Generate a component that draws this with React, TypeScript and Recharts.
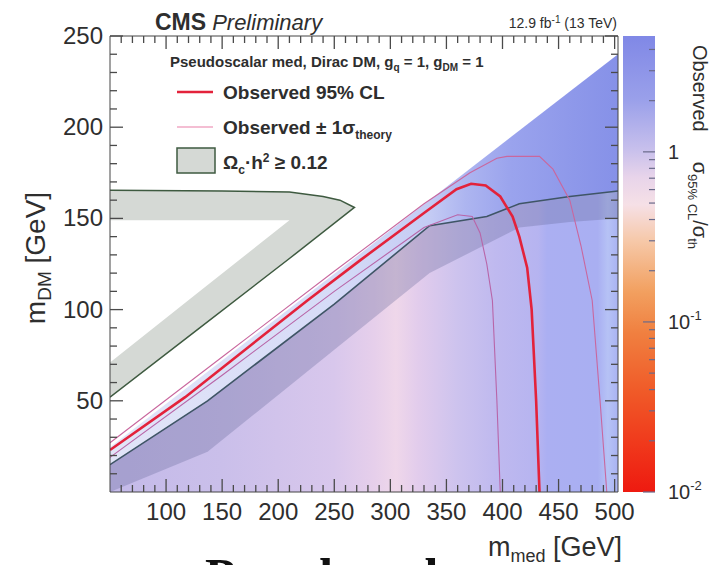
import { Area, ComposedChart, Line, ReferenceArea, XAxis, YAxis } from "recharts";

const SANS = "'Liberation Sans', Arial, Helvetica, sans-serif";
const INK = "#2e2e2e";
const TICK = "#4a4a4a";

// edge of the scanned (m_med, m_DM) grid
const gridMed = [50, 503];
const gridDM = [24.5, 240];

// relic density band along the diagonal
const relicMed = [50, 137, 250, 335, 386, 415, 460, 503];
const relicUpper = [15, 50, 103, 146, 151, 158, 162, 165];
const relicLower = [0, 22, 78, 120, 136, 145, 148, 150];

// relic wedge in the upper-left corner
const wedgeMed = [50, 150, 210, 210, 240, 255, 268];
const wedgeHigh = [165.5, 165, 164.5, 164.5, 162, 160, 156];
const wedgeLow = [149, 149, 149, 128, 143, 150, 156];
const armMed = [50, 130, 212];
const armLow = [52, 90, 129];
const armHigh = [71, 110, 150];
const wedgeEdgeMed = [50, 150, 210, 240, 255, 268, 210, 130, 50];
const wedgeEdgeDM = [165.5, 165, 164.5, 162, 160, 156, 128, 90, 52];

// observed 95% CL contour
const obsMed = [50, 117, 226, 273, 330, 359, 372, 385, 398, 409, 415, 422, 426, 430, 433];
const obsDM = [23, 52, 105, 127, 153, 166, 169, 168, 162, 151, 140, 123, 100, 50, 0];

// observed +/- 1 sigma theory
const thUpMed = [50, 150, 250, 330, 371, 395, 404, 433, 445, 460, 470, 480, 487, 493];
const thUpDM = [27, 74, 121, 158, 175, 183, 184, 184, 177, 160, 135, 105, 50, 0];
const thDownMed = [50, 150, 250, 330, 360, 373, 380, 386, 391, 395, 398];
const thDownDM = [19, 64, 110, 145, 152, 151, 142, 125, 105, 50, 0];

const xTicks = [60, 70, 80, 90, 100, 110, 120, 130, 140, 150, 160, 170, 180, 190, 200, 210, 220, 230, 240, 250,
  260, 270, 280, 290, 300, 310, 320, 330, 340, 350, 360, 370, 380, 390, 400, 410, 420, 430, 440, 450, 460, 470,
  480, 490, 500];
const yTicks = [10, 20, 30, 40, 50, 60, 70, 80, 90, 100, 110, 120, 130, 140, 150, 160, 170, 180, 190, 200, 210,
  220, 230, 240, 250];
const cbTicks = [0.01, 0.02, 0.03, 0.04, 0.05, 0.06, 0.07, 0.08, 0.09, 0.1, 0.2, 0.3, 0.4, 0.5, 0.6, 0.7, 0.8,
  0.9, 1, 2, 3, 4];

const pts = (xs: number[], ys: number[]) => xs.map((m, i) => ({ m, v: ys[i] }));
const band = (xs: number[], lo: number[], hi: number[]) => xs.map((m, i) => ({ m, lo: lo[i], hi: hi[i] }));

const gridRows = pts(gridMed, gridDM);
const relicRows = pts(relicMed, relicUpper);
const relicBand = band(relicMed, relicLower, relicUpper);
const wedgeRows = band(wedgeMed, wedgeLow, wedgeHigh);
const armRows = band(armMed, armLow, armHigh);
const wedgeEdge = pts(wedgeEdgeMed, wedgeEdgeDM);
const obsRows = pts(obsMed, obsDM);
const thUpRows = pts(thUpMed, thUpDM);
const thDownRows = pts(thDownMed, thDownDM);
const range = (d: { lo: number; hi: number }) => [d.lo, d.hi];

const BottomTick = ({ x, y, payload }: any) => {
  const major = payload.value % 50 === 0;
  return (
    <g>
      <line x1={x} x2={x} y1={y} y2={y - (major ? 13 : 7)} stroke={TICK} strokeWidth={1.3} />
      {major && (
        <text x={x} y={y + 28} textAnchor="middle" fontSize={24} fill={INK} fontFamily={SANS}>
          {payload.value}
        </text>
      )}
    </g>
  );
};

const TopTick = ({ x, y, payload }: any) => (
  <line x1={x} x2={x} y1={y} y2={y + (payload.value % 50 === 0 ? 13 : 7)} stroke={TICK} strokeWidth={1.3} />
);

const LeftTick = ({ x, y, payload }: any) => {
  const major = payload.value % 50 === 0;
  return (
    <g>
      <line x1={x} x2={x + (major ? 13 : 7)} y1={y} y2={y} stroke={TICK} strokeWidth={1.3} />
      {major && (
        <text x={x - 7} y={y + 8} textAnchor="end" fontSize={24} fill={INK} fontFamily={SANS}>
          {payload.value}
        </text>
      )}
    </g>
  );
};

const RightTick = ({ x, y, payload }: any) => (
  <line x1={x} x2={x - (payload.value % 50 === 0 ? 13 : 7)} y1={y} y2={y} stroke={TICK} strokeWidth={1.3} />
);

const CbTick = ({ x, y, payload }: any) => {
  const v = payload.value;
  const major = v === 0.01 || v === 0.1 || v === 1;
  const exp = v === 0.01 ? "-2" : v === 0.1 ? "-1" : null;
  return (
    <g>
      <line x1={x} x2={x - (major ? 12 : 6)} y1={y} y2={y} stroke="#6a6a8a" strokeWidth={1.2} />
      {major && (
        <text x={x + 13} y={y + 7} fontSize={20} fill={INK} fontFamily={SANS}>
          {exp ? "10" : "1"}
          {exp && (
            <tspan dy={-9} fontSize={13}>
              {exp}
            </tspan>
          )}
        </text>
      )}
    </g>
  );
};

export default function App() {
  return (
    <div style={{ position: "absolute", left: 0, top: 0, width: 723, height: 565, overflow: "hidden", background: "#fff" }}>
      <svg width={0} height={0} style={{ position: "absolute" }}>
        <defs>
          <linearGradient id="upperMap" x1="0" y1="0" x2="1" y2="0">
            <stop offset="0" stopColor="#e2e5f8" />
            <stop offset="0.44" stopColor="#d6dbf7" />
            <stop offset="0.63" stopColor="#c4cbf4" />
            <stop offset="0.7" stopColor="#adb5f0" />
            <stop offset="0.79" stopColor="#9aa3ed" />
            <stop offset="0.9" stopColor="#8f99ea" />
            <stop offset="1" stopColor="#8691e8" />
          </linearGradient>
          <linearGradient id="lowerMap" x1="0" y1="0" x2="1" y2="0">
            <stop offset="0" stopColor="#c4bae9" />
            <stop offset="0.22" stopColor="#cabfea" />
            <stop offset="0.44" stopColor="#d8c7ec" />
            <stop offset="0.52" stopColor="#e6cfeb" />
            <stop offset="0.563" stopColor="#efd7ea" />
            <stop offset="0.607" stopColor="#e2ccec" />
            <stop offset="0.684" stopColor="#cdc3ee" />
            <stop offset="0.76" stopColor="#bfb9ef" />
            <stop offset="0.843" stopColor="#b6b4f0" />
            <stop offset="0.86" stopColor="#abaff2" />
            <stop offset="0.96" stopColor="#a9aff2" />
            <stop offset="0.98" stopColor="#b6c2f5" />
            <stop offset="1" stopColor="#a9b3f3" />
          </linearGradient>
          <linearGradient id="cbGrad" x1="0" y1="0" x2="0" y2="1">
            <stop offset="0" stopColor="#8088e6" />
            <stop offset="0.14" stopColor="#9aa0ea" />
            <stop offset="0.25" stopColor="#c8c0ec" />
            <stop offset="0.31" stopColor="#e8d4ea" />
            <stop offset="0.37" stopColor="#f6e0e6" />
            <stop offset="0.45" stopColor="#f6c8a8" />
            <stop offset="0.56" stopColor="#f2a060" />
            <stop offset="0.65" stopColor="#f08040" />
            <stop offset="0.78" stopColor="#f05a28" />
            <stop offset="0.89" stopColor="#f03a1c" />
            <stop offset="1" stopColor="#ee1a10" />
          </linearGradient>
        </defs>
      </svg>

      <div style={{ position: "absolute", left: 0, top: 0 }}>
        <ComposedChart width={723} height={565} margin={{ top: 35, right: 104, bottom: 43, left: 0 }}>
          <Area data={gridRows} dataKey="v" type="linear" stroke="none" fill="url(#upperMap)" fillOpacity={1} dot={false} activeDot={false} isAnimationActive={false} />
          <Area data={relicRows} dataKey="v" type="linear" stroke="none" fill="url(#lowerMap)" fillOpacity={1} dot={false} activeDot={false} isAnimationActive={false} />
          <Area data={relicBand} dataKey={range} type="linear" stroke="none" fill="#5f6594" fillOpacity={0.3} dot={false} activeDot={false} isAnimationActive={false} />
          <Area data={wedgeRows} dataKey={range} type="linear" stroke="none" fill="#d5d9d5" fillOpacity={1} dot={false} activeDot={false} isAnimationActive={false} />
          <Area data={armRows} dataKey={range} type="linear" stroke="none" fill="#d5d9d5" fillOpacity={1} dot={false} activeDot={false} isAnimationActive={false} />

          <Line data={wedgeEdge} dataKey="v" type="linear" stroke="#3e5a40" strokeWidth={1.5} dot={false} activeDot={false} isAnimationActive={false} />
          <Line data={relicRows} dataKey="v" type="linear" stroke="#3f5566" strokeWidth={1.6} dot={false} activeDot={false} isAnimationActive={false} />
          <Line data={thUpRows} dataKey="v" type="linear" stroke="#c9679e" strokeWidth={1.1} dot={false} activeDot={false} isAnimationActive={false} />
          <Line data={thDownRows} dataKey="v" type="linear" stroke="#b865a8" strokeWidth={1.1} dot={false} activeDot={false} isAnimationActive={false} />
          <Line data={obsRows} dataKey="v" type="linear" stroke="#e3223b" strokeWidth={2.6} dot={false} activeDot={false} isAnimationActive={false} />

          <XAxis
            dataKey="m"
            type="number"
            domain={[50, 503]}
            allowDataOverflow
            ticks={xTicks}
            interval={0}
            height={30}
            tickSize={0}
            tickMargin={0}
            tickLine={false}
            axisLine={{ stroke: "#444" }}
            tick={<BottomTick />}
          />
          <XAxis
            xAxisId="top"
            orientation="top"
            dataKey="m"
            type="number"
            domain={[50, 503]}
            allowDataOverflow
            ticks={xTicks}
            interval={0}
            height={1}
            tickSize={0}
            tickMargin={0}
            tickLine={false}
            axisLine={{ stroke: "#444" }}
            tick={<TopTick />}
          />
          <YAxis
            type="number"
            domain={[0, 250]}
            allowDataOverflow
            ticks={yTicks}
            interval={0}
            width={110}
            tickSize={0}
            tickMargin={0}
            tickLine={false}
            axisLine={{ stroke: "#444" }}
            tick={<LeftTick />}
          />
          <YAxis
            yAxisId="right"
            orientation="right"
            type="number"
            domain={[0, 250]}
            allowDataOverflow
            ticks={yTicks}
            interval={0}
            width={1}
            tickSize={0}
            tickMargin={0}
            tickLine={false}
            axisLine={{ stroke: "#444" }}
            tick={<RightTick />}
          />
        </ComposedChart>
      </div>

      {/* colour scale */}
      <div style={{ position: "absolute", left: 623, top: 0 }}>
        <ComposedChart width={100} height={565} margin={{ top: 36, right: 0, bottom: 73, left: 0 }} data={[{ x: 0 }, { x: 1 }]}>
          <ReferenceArea x1={0} x2={1} y1={0.01} y2={4.8} fill="url(#cbGrad)" fillOpacity={1} stroke="none" ifOverflow="visible" />
          <XAxis dataKey="x" type="number" domain={[0, 1]} hide />
          <YAxis
            orientation="right"
            type="number"
            scale="log"
            domain={[0.01, 4.8]}
            allowDataOverflow
            ticks={cbTicks}
            interval={0}
            width={68}
            tickSize={0}
            tickMargin={0}
            tickLine={false}
            axisLine={false}
            tick={<CbTick />}
          />
        </ComposedChart>
      </div>

      <svg width={723} height={565} style={{ position: "absolute", left: 0, top: 0, pointerEvents: "none" }} fontFamily={SANS} fill={INK}>
        <text x={155} y={30} fontSize={22}>
          <tspan fontWeight="bold" fontSize={23}>CMS</tspan>
          <tspan dx={6} fontStyle="italic">Preliminary</tspan>
        </text>
        <text x={617} y={28} fontSize={14} textAnchor="end">
          12.9 fb<tspan dy={-5} fontSize={10}>-1</tspan>
          <tspan dy={5}> (13 TeV)</tspan>
        </text>

        <text x={170} y={67} fontSize={15} fontWeight="bold">
          Pseudoscalar med, Dirac DM, g<tspan dy={4} fontSize={10}>q</tspan>
          <tspan dy={-4}> = 1, g</tspan>
          <tspan dy={4} fontSize={10}>DM</tspan>
          <tspan dy={-4}> = 1</tspan>
        </text>

        <line x1={177} x2={213} y1={92} y2={92} stroke="#e3223b" strokeWidth={2.6} />
        <text x={223} y={99} fontSize={19} fontWeight="bold">Observed 95% CL</text>
        <line x1={177} x2={213} y1={127} y2={127} stroke="#f0a8c4" strokeWidth={1.6} />
        <text x={223} y={134} fontSize={19} fontWeight="bold">
          Observed ± 1σ<tspan dy={5} fontSize={12}>theory</tspan>
        </text>
        <rect x={177} y={148} width={38} height={25} fill="#d5d9d5" stroke="#3e5a40" strokeWidth={1.5} />
        <text x={223} y={169} fontSize={19} fontWeight="bold">
          Ω<tspan dy={5} fontSize={12}>c</tspan>
          <tspan dy={-5}>·h</tspan>
          <tspan dy={-7} fontSize={12}>2</tspan>
          <tspan dy={7}> ≥ 0.12</tspan>
        </text>

        <text x={488} y={556} fontSize={27}>
          m<tspan dy={6} fontSize={18}>med</tspan>
          <tspan dy={-6}> [GeV]</tspan>
        </text>
        <text transform="translate(45,258) rotate(-90)" textAnchor="middle" fontSize={28}>
          m<tspan dy={6} fontSize={19}>DM</tspan>
          <tspan dy={-6}> [GeV]</tspan>
        </text>
        <text transform="translate(693,45) rotate(90)" fontSize={20}>
          Observed
          <tspan dx={30}>σ</tspan>
          <tspan dy={5} fontSize={13}>95% CL</tspan>
          <tspan dy={-5}>/σ</tspan>
          <tspan dy={5} fontSize={13}>th</tspan>
        </text>

        <text x={205} y={593} fontSize={50} fontWeight="bold" fontFamily="'Liberation Serif', serif" fill="#111">
          Pseudoscalar
        </text>
      </svg>
    </div>
  );
}
